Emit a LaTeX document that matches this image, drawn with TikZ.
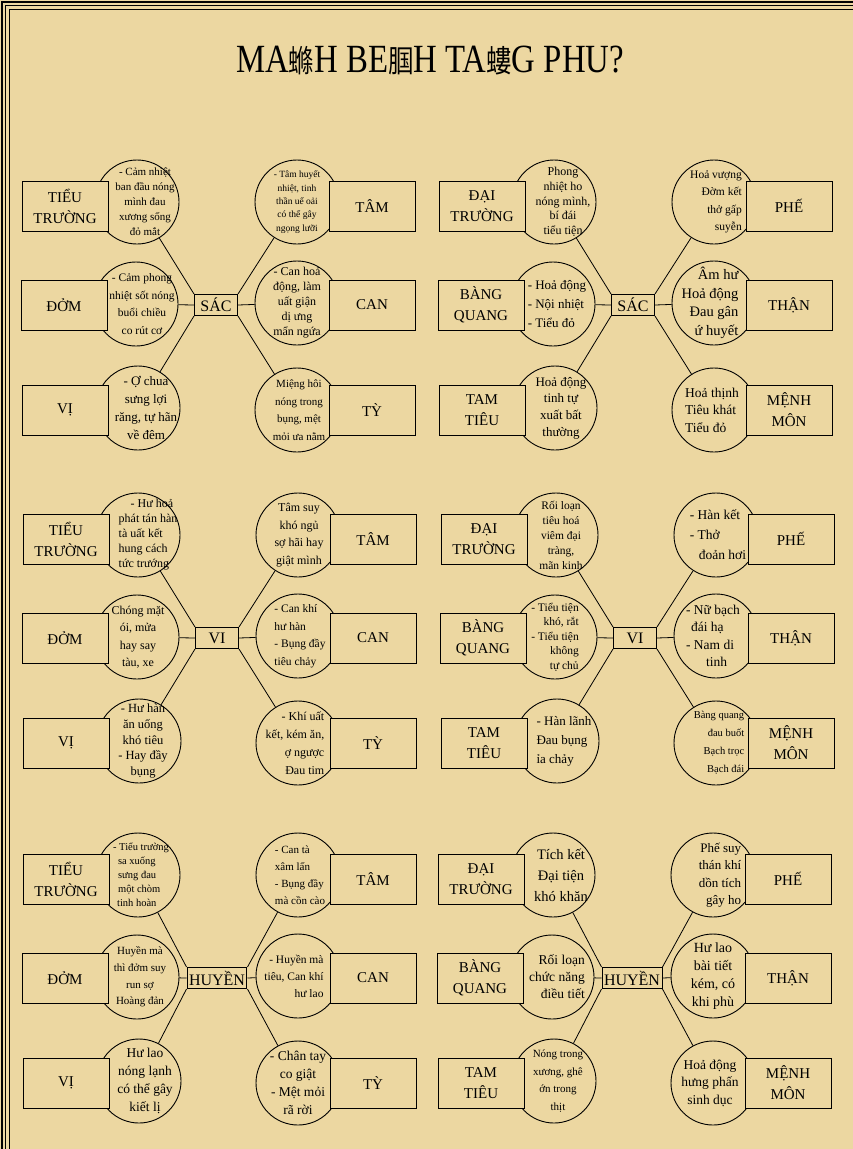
\documentclass[tikz,border=0pt]{standalone}
\usepackage{fontspec}
\setmainfont{Liberation Serif}
\newfontfamily\cjk{Noto Sans CJK SC}
\usepackage{graphicx}
\usepackage{xcolor}
\usepackage{tikz}
\usetikzlibrary{positioning}
\definecolor{parch}{RGB}{236,215,161}

\tikzset{
  organbox/.style={draw,fill=parch,line width=1pt,minimum width=86pt,minimum height=50pt,align=center,inner sep=2pt,font=\fontsize{15}{21}\selectfont},
  leaf/.style={draw,circle,line width=0.9pt,minimum size=84pt,inner sep=0pt},
  hubbox/.style={draw,fill=parch,line width=1pt,minimum width=43pt,minimum height=21pt,inner sep=2pt,font=\fontsize{16}{16}\selectfont},
  symp/.style={align=center,inner sep=0pt},
  fs/.style 2 args={font=\fontsize{#1}{#2}\selectfont},
}

\begin{document}
\begin{tikzpicture}[x=1pt,y=-1pt,
  % slot offsets from the hub box (px, y down): c = circle, b = organ box
  cLa/.style={shift={(-79,-103)}}, cLb/.style={shift={(-80,-1)}}, cLc/.style={shift={(-78,103)}},
  cRa/.style={shift={(81,-103)}},  cRb/.style={shift={(81,-2)}},   cRc/.style={shift={(81,105)}},
  bLa/.style={shift={(-151,-99)}}, bLb/.style={shift={(-152,0)}},  bLc/.style={shift={(-151,105)}},
  bRa/.style={shift={(156,-99)}},  bRb/.style={shift={(156,0)}},   bRc/.style={shift={(156,105)}}]
  \useasboundingbox (0,0) rectangle (853,1149);
  \fill[parch] (0,0) rectangle (853,1149);
  % double frame, top and left
  \draw[line width=1.5pt] (2,1149) -- (2,2) -- (853,2);
  \draw[line width=0.8pt] (5.3,1149) -- (5.3,5.3) -- (853,5.3);
  \draw[line width=0.8pt] (9.5,1149) -- (9.5,9.5) -- (853,9.5);

  \def\cj#1{{\cjk\fontsize{31}{31}\selectfont #1}}
  \node[anchor=base] (title) at (430,72) {\scalebox{0.82}[1]{\fontsize{40}{40}\selectfont MA\cj{螩}H BE\cj{腘}H TA\cj{螻}G PHU?}};

  \def\organ#1#2#3#4#5{  % hub, slot, box label, text style, circle text
    \node[leaf,c#2] (#1-#2) at (#1) {};
    \node[symp,c#2,#4] (#1-#2-txt) at (#1) {#5};
    \node[organbox,b#2] (#1-#2-box) at (#1) {#3};
  }
  \def\spokes#1{
    \foreach \s/\a in {La/north west,Lb/west,Lc/south west,Ra/north east,Rb/east,Rc/south east}
      \draw[line width=0.8pt] (#1.\a) -- (#1-\s);
  }

  % row 1: SAC
  \node[hubbox] (sac1) at (216,305) {SÁC};
  \organ{sac1}{La}{TIỂU\\TRƯỜNG}{fs={11}{15},xshift=8pt}{- Cảm nhiệt\\ban đầu nóng\\mình đau\\xương sống\\đỏ mắt}
  \organ{sac1}{Lb}{ĐỞM}{fs={11.5}{17.5},xshift=6pt}{- Cảm phong\\nhiệt sốt nóng\\buổi chiều\\co rút cơ}
  \organ{sac1}{Lc}{VỊ}{fs={13}{18},xshift=8pt}{- Ợ chua\\sưng lợi\\răng, tự hãn\\về đêm}
  \organ{sac1}{Ra}{TÂM}{fs={9.5}{13.3}}{- Tâm huyết\\nhiệt, tinh\\thần uể oải\\có thể gây\\ngọng lưỡi}
  \organ{sac1}{Rb}{CAN}{fs={12}{15}}{- Can hoả\\động, làm\\uất giận\\dị ưng\\mẩn ngứa}
  \organ{sac1}{Rc}{TỲ}{fs={11}{17.5},xshift=2pt}{Miệng hôi\\nóng trong\\bụng, mệt\\mỏi ưa nằm}
  \spokes{sac1}

  \node[hubbox] (sac2) at (633,305) {SÁC};
  \organ{sac2}{La}{ĐẠI\\TRƯỜNG}{fs={12}{14.6},xshift=9pt}{Phong\\nhiệt ho\\nóng mình,\\bí đái\\tiểu tiện}
  \organ{sac2}{Lb}{BÀNG\\QUANG}{fs={13}{19},align=left,xshift=4pt}{- Hoả động\\- Nội nhiệt\\- Tiểu đỏ}
  \organ{sac2}{Lc}{TAM\\TIÊU}{fs={13}{16.7},xshift=6pt}{Hoả động\\tinh tự\\xuất bất\\thường}
  \organ{sac2}{Ra}{PHẾ}{fs={11.5}{17.5},align=right,xshift=2pt}{Hoả vượng\\Đờm kết\\thở gấp\\suyễn}
  \organ{sac2}{Rb}{THẬN}{fs={14.5}{18.5},align=right,xshift=-4pt}{Âm hư\\Hoả động\\Đau gân\\ứ huyết}
  \organ{sac2}{Rc}{MỆNH\\MÔN}{fs={13.5}{17.5},align=left,xshift=-2pt}{Hoả thịnh\\Tiêu khát\\Tiểu đỏ}
  \spokes{sac2}

  % row 2: VI
  \node[hubbox] (vi1) at (217,638) {VI};
  \organ{vi1}{La}{TIỂU\\TRƯỜNG}{fs={12}{15},align=left,xshift=10pt}{\hspace*{12pt}- Hư hoả\\phát tán hàn\\tà uất kết\\hung cách\\tức trướng}
  \organ{vi1}{Lb}{ĐỞM}{fs={12}{17.5},xshift=1pt}{Chóng mặt\\ói, mửa\\hay say\\tàu, xe}
  \organ{vi1}{Lc}{VỊ}{fs={12.5}{15.8},xshift=4pt}{- Hư hàn\\ăn uống\\khó tiêu\\- Hay đầy\\bụng}
  \organ{vi1}{Ra}{TÂM}{fs={12}{17.5},xshift=1pt}{Tâm suy\\khó ngủ\\sợ hãi hay\\giật mình}
  \organ{vi1}{Rb}{CAN}{fs={11.5}{17.5},align=left,xshift=2pt}{- Can khí\\hư hàn\\- Bụng đầy\\tiêu chảy}
  \organ{vi1}{Rc}{TỲ}{fs={12}{18},align=right,xshift=-3pt}{- Khí uất\\kết, kém ăn,\\ợ ngược\\Đau tim}
  \spokes{vi1}

  \node[hubbox] (vi2) at (635,638) {VI};
  \organ{vi2}{La}{ĐẠI\\TRƯỜNG}{fs={11.5}{15},xshift=5pt}{Rối loạn\\tiêu hoá\\viêm đại\\tràng,\\mãn kinh}
  \organ{vi2}{Lb}{BÀNG\\QUANG}{fs={11.5}{14.5},align=right}{- Tiểu tiện\\khó, rắt\\- Tiểu tiện\\không\\tự chủ}
  \organ{vi2}{Lc}{TAM\\TIÊU}{fs={13}{19},align=left,xshift=7pt}{- Hàn lãnh\\Đau bụng\\ỉa chảy}
  \organ{vi2}{Ra}{PHẾ}{fs={13.5}{20},align=left,xshift=2pt}{- Hàn kết\\- Thở\\\hspace*{9pt}đoản hơi}
  \organ{vi2}{Rb}{THẬN}{fs={13.5}{17.5},align=left,xshift=-3pt}{- Nữ bạch\\\hspace*{5pt}đái hạ\\- Nam di\\\hspace*{20pt}tinh}
  \organ{vi2}{Rc}{MỆNH\\MÔN}{fs={10.5}{18},align=right,xshift=3pt}{Bàng quang\\đau buốt\\Bạch trọc\\Bạch đái}
  \spokes{vi2}

  % row 3: HUYEN
  \node[hubbox] (huyen1) at (217,978) {HUYỀN};
  \organ{huyen1}{La}{TIỂU\\TRƯỜNG}{fs={10.5}{14},align=left,xshift=3pt}{- Tiểu trường\\\hspace*{5pt}sa xuống\\\hspace*{5pt}sưng đau\\\hspace*{5pt}một chòm\\\hspace*{4pt}tinh hoàn}
  \organ{huyen1}{Lb}{ĐỞM}{fs={11}{16.7},xshift=3pt}{Huyền mà\\thì đởm suy\\run sợ\\Hoàng đản}
  \organ{huyen1}{Lc}{VỊ}{fs={13.5}{18},xshift=6pt}{Hư lao\\nóng lạnh\\có thể gây\\kiết lị}
  \organ{huyen1}{Ra}{TÂM}{fs={11}{17},align=left,xshift=2pt}{- Can tà\\xâm lấn\\- Bụng đầy\\mà cồn cào}
  \organ{huyen1}{Rb}{CAN}{fs={11.5}{17},align=right,xshift=-4pt}{- Huyền mà\\tiêu, Can khí\\hư lao}
  \organ{huyen1}{Rc}{TỲ}{fs={13.5}{18}}{- Chân tay\\co giật\\- Mệt mỏi\\rã rời}
  \spokes{huyen1}

  \node[hubbox] (huyen2) at (632,978) {HUYỀN};
  \organ{huyen2}{La}{ĐẠI\\TRƯỜNG}{fs={14.5}{21},xshift=8pt}{Tích kết\\Đại tiện\\khó khăn}
  \organ{huyen2}{Lb}{BÀNG\\QUANG}{fs={13.5}{17},align=right,xshift=5pt}{Rối loạn\\chức năng\\điều tiết}
  \organ{huyen2}{Lc}{TAM\\TIÊU}{fs={11}{17.5},xshift=4pt}{Nóng trong\\xương, ghê\\ớn trong\\thịt}
  \organ{huyen2}{Ra}{PHẾ}{fs={13}{17.5},align=right,xshift=7pt}{Phế suy\\thán khí\\dồn tích\\gây ho}
  \organ{huyen2}{Rb}{THẬN}{fs={14}{18}}{Hư lao\\bài tiết\\kém, có\\khi phù}
  \organ{huyen2}{Rc}{MỆNH\\MÔN}{fs={13.5}{17.5},xshift=-3pt}{Hoả động\\hưng phấn\\sinh dục}
  \spokes{huyen2}
\end{tikzpicture}
\end{document}
